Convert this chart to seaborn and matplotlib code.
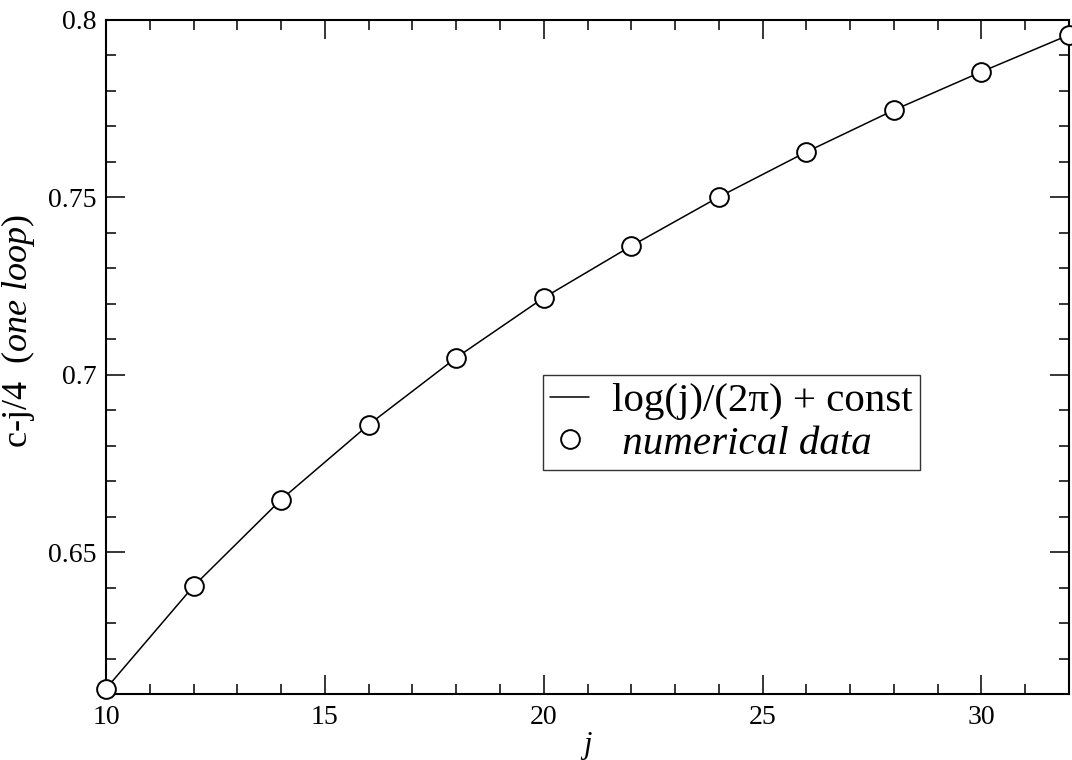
import matplotlib
matplotlib.use("Agg")
import matplotlib.pyplot as plt
import seaborn as sns
import pandas as pd
from matplotlib.ticker import MultipleLocator

j_values = [10, 12, 14, 16, 18, 20, 22, 24, 26, 28, 30, 32]
c_values = [0.6115, 0.6404, 0.6648, 0.6859, 0.7048, 0.7217, 0.7363, 0.7501, 0.7628, 0.7746, 0.7854, 0.7958]
x_ticks = [10, 15, 20, 25, 30]
y_ticks = [0.65, 0.7, 0.75, 0.8]
y_tick_labels = ["0.65", "0.7", "0.75", "0.8"]
line_label = "log(j)/(2\u03c0) + const"
data_label = " numerical data"

df = pd.DataFrame({"j": j_values, "c": c_values})

sns.set_theme(style="ticks")
plt.rcParams["font.family"] = ["Liberation Serif", "DejaVu Serif"]
plt.rcParams["mathtext.fontset"] = "custom"
plt.rcParams["mathtext.rm"] = "Liberation Serif"
plt.rcParams["mathtext.it"] = "Liberation Serif:italic"
for k in ["text.color", "axes.labelcolor", "xtick.color", "ytick.color", "axes.edgecolor"]:
    plt.rcParams[k] = "black"

fig = plt.figure(figsize=(10.72, 7.6), dpi=100)
ax = fig.add_axes([106/1072, 1 - 694/760, (1069-106)/1072, (694-20)/760])

sns.lineplot(data=df, x="j", y="c", ax=ax, color="black", linewidth=1.1,
             label=line_label, zorder=2)
ax.plot(df["j"], df["c"], linestyle="none", marker="o", markersize=13.5,
        markerfacecolor="white", markeredgecolor="black", markeredgewidth=1.4,
        clip_on=False, zorder=3, label=data_label)

ax.set_xlim(10, 32)
ax.set_ylim(0.61, 0.8)
ax.xaxis.set_minor_locator(MultipleLocator(1))
ax.yaxis.set_minor_locator(MultipleLocator(0.01))
ax.set_yticks(y_ticks)
ax.set_yticklabels(y_tick_labels)
ax.set_xticks(x_ticks)
ax.set_xticklabels([str(v) for v in x_ticks])

ax.tick_params(which="both", direction="in", top=True, right=True,
               labelsize=20, colors="black")
ax.tick_params(axis="x", pad=8)
ax.tick_params(axis="y", pad=7)
ax.tick_params(which="major", length=14, width=1.1)
ax.tick_params(which="minor", length=7.5, width=1.1)
for s in ax.spines.values():
    s.set_linewidth(1.5)
    s.set_color("black")

ax.set_xlabel("j", fontsize=22, fontstyle="italic", labelpad=1)
ax.set_ylabel(r"c-j/4  $\mathit{(one\ loop)}$", fontsize=26)
ax.yaxis.set_label_coords((37-106)/963, (694-331)/674)

leg = ax.legend(loc="upper left", bbox_to_anchor=((543-106)/963, (694-375)/674),
                fontsize=29.5, frameon=True, fancybox=False, edgecolor="black",
                handlelength=0.95, handletextpad=0.55, borderpad=0.18,
                labelspacing=0.12, borderaxespad=0)
leg.get_frame().set_linewidth(1.0)
leg.get_texts()[1].set_fontstyle("italic")

fig.savefig("out.png", dpi=100, facecolor="white")
